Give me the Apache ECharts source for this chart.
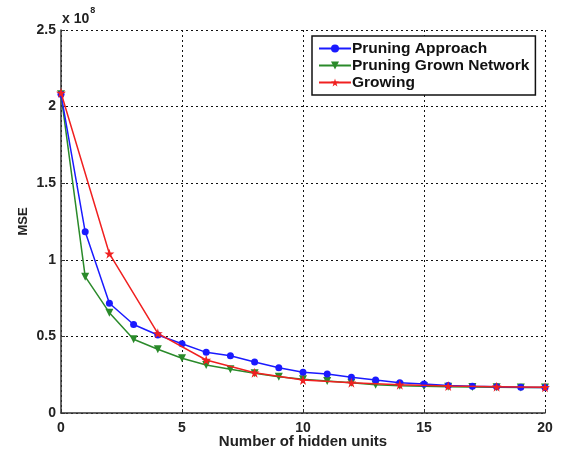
<!DOCTYPE html>
<html><head><meta charset="utf-8">
<script src="https://cdn.jsdelivr.net/npm/echarts@6/dist/echarts.min.js"></script>
<style>html,body{margin:0;padding:0;background:#fff}#c{width:562px;height:452px}</style>
</head><body><div id="c"></div>
<script>
const hiddenUnits = [0,1,2,3,4,5,6,7,8,9,10,11,12,13,14,15,16,17,18,19,20];
const pruningApproach = [2.08,1.183,0.716,0.578,0.509,0.452,0.396,0.374,0.333,0.296,0.266,0.255,0.233,0.215,0.198,0.189,0.180,0.175,0.172,0.168,0.166];
const pruningGrown = [2.08,0.89,0.655,0.481,0.416,0.357,0.313,0.285,0.259,0.237,0.220,0.209,0.198,0.185,0.178,0.175,0.172,0.170,0.168,0.167,0.166];
const growingUnits = [0,2,4,6,8,10,12,14,16,18,20];
const growing = [2.09,1.04,0.52,0.346,0.263,0.215,0.198,0.185,0.176,0.172,0.168];
const yTicks = ['0','0.5','1','1.5','2','2.5'];

const starPath = 'path://M50,0 L61,35 L98,35 L68,57 L79,91 L50,70 L21,91 L32,57 L2,35 L39,35 Z';
const font = 'Liberation Sans, Arial, sans-serif';
const chart = echarts.init(document.getElementById('c'));
const pair = (xs, ys) => xs.map((x, i) => [x, ys[i]]);
chart.setOption({
  animation: false,
  backgroundColor: '#fff',
  grid: {left: 61, right: 17, top: 30, bottom: 39, containLabel: false, outerBoundsMode: 'none'},
  xAxis: {
    type: 'value', min: 0, max: 20, interval: 5,
    name: 'Number of hidden units', nameLocation: 'middle', nameGap: 21, nameMoveOverlap: false,
    nameTextStyle: {fontFamily: font, fontWeight: 'bold', fontSize: 15, color: '#222'},
    axisLine: {lineStyle: {color: '#333', width: 1.5}},
    axisTick: {inside: true, length: 4, lineStyle: {color: '#333'}},
    axisLabel: {fontFamily: font, fontWeight: 'bold', fontSize: 14, color: '#222', margin: 8},
    splitLine: {show: true, lineStyle: {color: '#111', type: [2, 3], width: 1}}
  },
  yAxis: {
    type: 'value', min: 0, max: 2.5, interval: 0.5,
    name: 'MSE', nameLocation: 'middle', nameGap: 31, nameMoveOverlap: false,
    nameTextStyle: {fontFamily: font, fontWeight: 'bold', fontSize: 13, color: '#222'},
    axisLine: {show: true, lineStyle: {color: '#333', width: 1.5}},
    axisTick: {show: true, inside: true, length: 4, lineStyle: {color: '#333'}},
    axisLabel: {fontFamily: font, fontWeight: 'bold', fontSize: 14, color: '#222', margin: 5,
      formatter: (v) => yTicks[Math.round(v / 0.5)]},
    splitLine: {show: true, lineStyle: {color: '#111', type: [2, 3], width: 1}}
  },
  legend: {
    orient: 'vertical', left: 312, top: 36,
    padding: [4, 6, 4, 6], itemGap: 0, itemWidth: 32, itemHeight: 10,
    borderColor: '#111', borderWidth: 1.5, backgroundColor: '#fff',
    textStyle: {fontFamily: font, fontWeight: 'bold', fontSize: 15.5, lineHeight: 17, color: '#111', padding: [0,0,0,-4]},
    data: ['Pruning Approach', 'Pruning Grown Network', 'Growing']
  },
  graphic: [{
    type: 'text', left: 62, top: 6,
    style: {
      text: '{a|x 10}{b|8}', fill: '#222',
      rich: {
        a: {fontFamily: font, fontWeight: 'bold', fontSize: 14, fill: '#222', padding: [6,0,0,0]},
        b: {fontFamily: font, fontWeight: 'bold', fontSize: 9, fill: '#222', verticalAlign: 'top', padding: [0,0,0,1]}
      }
    }
  }],
  series: [
    {name: 'Pruning Approach', type: 'line', data: pair(hiddenUnits, pruningApproach),
     color: '#1a1aff', symbol: 'circle', symbolSize: 7, lineStyle: {width: 1.5}, z: 3},
    {name: 'Pruning Grown Network', type: 'line', data: pair(hiddenUnits, pruningGrown),
     color: '#2a8a2a', symbol: 'triangle', symbolRotate: 180, symbolSize: 8, lineStyle: {width: 1.5}, z: 2},
    {name: 'Growing', type: 'line', data: pair(growingUnits, growing),
     color: '#f02020', symbol: starPath, symbolSize: 10, lineStyle: {width: 1.5}, z: 4}
  ]
});
</script></body></html>
